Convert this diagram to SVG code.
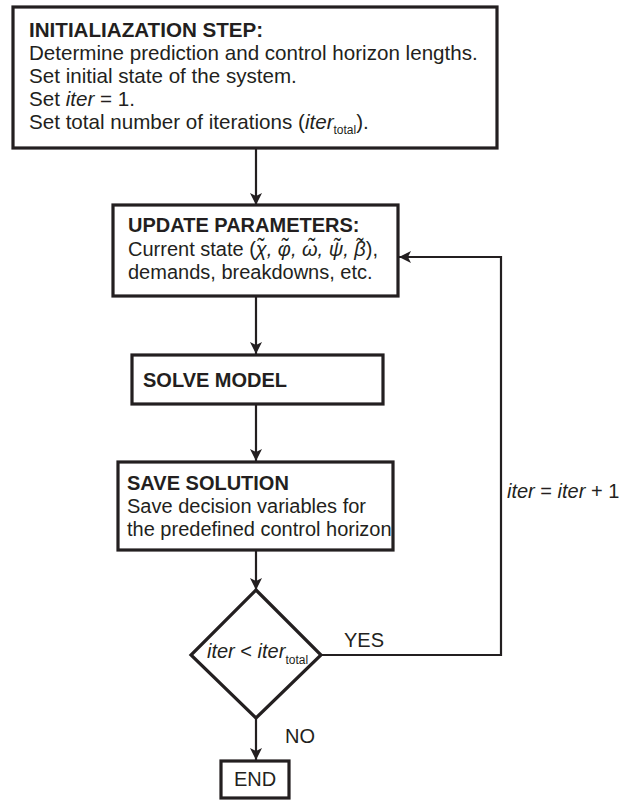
<svg xmlns="http://www.w3.org/2000/svg" width="626" height="801" viewBox="0 0 626 801">
<style>
  .box { fill: #fff; stroke: #231f20; stroke-width: 3.2; }
  .ln { fill: none; stroke: #231f20; stroke-width: 2.2; }
  text { font-family: "Liberation Sans", Arial, sans-serif; font-size: 20px; fill: #231f20; }
  .big { font-size: 20.6px; }
  .b { font-weight: bold; }
  .i { font-style: italic; }
  .sub { font-size: 12px; }
</style>
<defs>
  <marker id="arr" markerUnits="userSpaceOnUse" markerWidth="14" markerHeight="12" refX="12" refY="6" orient="auto">
    <path d="M0,0 L12,6 L0,12 L3,6 z" fill="#231f20"/>
  </marker>
</defs>
<rect width="626" height="801" fill="#fff"/>

<g id="connectors">
  <line class="ln" x1="256" y1="149" x2="256" y2="205" marker-end="url(#arr)"/>
  <line class="ln" x1="256" y1="297" x2="256" y2="354" marker-end="url(#arr)"/>
  <line class="ln" x1="256" y1="405" x2="256" y2="461" marker-end="url(#arr)"/>
  <line class="ln" x1="256" y1="551" x2="256" y2="590" marker-end="url(#arr)"/>
  <polyline class="ln" points="321,655 501,655 501,257 399,257" marker-end="url(#arr)"/>
  <line class="ln" x1="256" y1="718" x2="256" y2="760" marker-end="url(#arr)"/>
  <text x="344" y="647">YES</text>
  <text x="285" y="743">NO</text>
  <text x="507" y="498"><tspan class="i">iter</tspan> = <tspan class="i">iter</tspan> + 1</text>
</g>

<g id="init">
  <rect class="box" x="13" y="7" width="484" height="141"/>
  <text x="29" y="37" class="b big">INITIALIAZATION STEP:</text>
  <text x="29" y="60" class="big">Determine prediction and control horizon lengths.</text>
  <text x="29" y="83" class="big">Set initial state of the system.</text>
  <text x="29" y="106" class="big">Set <tspan class="i">iter</tspan> = 1.</text>
  <text x="29" y="129" class="big">Set total number of iterations (<tspan class="i">iter</tspan><tspan class="sub" dy="5">total</tspan><tspan dy="-5">).</tspan></text>
</g>

<g id="update">
  <rect class="box" x="113" y="205" width="285" height="91"/>
  <text x="128" y="232" class="b">UPDATE PARAMETERS:</text>
  <text x="128" y="256">Current state (<tspan class="i">χ̃, φ̃, ω̃, ψ̃, β̃</tspan>),</text>
  <text x="128" y="279">demands, breakdowns, etc.</text>
</g>

<g id="solve">
  <rect class="box" x="132" y="355" width="251" height="49"/>
  <text x="143" y="387" class="b">SOLVE MODEL</text>
</g>

<g id="save">
  <rect class="box" x="118" y="462" width="275" height="88"/>
  <text x="127" y="490" class="b">SAVE SOLUTION</text>
  <text x="127" y="513">Save decision variables for</text>
  <text x="127" y="536">the predefined control horizon</text>
</g>

<g id="decision">
  <polygon class="box" points="256,590 321,655 256,718 191,655"/>
  <text x="207" y="658"><tspan class="i">iter</tspan> &lt; <tspan class="i">iter</tspan><tspan class="sub" dy="6">total</tspan></text>
</g>

<g id="end">
  <rect class="box" x="221" y="761" width="68" height="37"/>
  <text x="255" y="786" text-anchor="middle">END</text>
</g>
</svg>
